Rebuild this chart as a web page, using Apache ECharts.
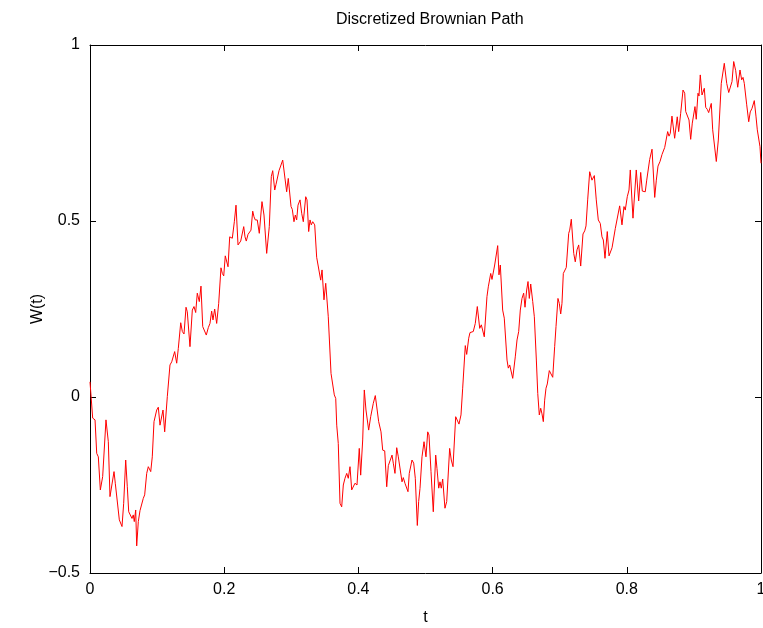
<!DOCTYPE html>
<html>
<head>
<meta charset="utf-8">
<script src="https://cdn.jsdelivr.net/npm/echarts@6/dist/echarts.min.js"></script>
<style>
  html, body { margin: 0; padding: 0; background: #fff; }
  #chart { width: 763px; height: 628px; }
</style>
</head>
<body>
<div id="chart"></div>
<script>
// Sample times t of the discretized path
const times = [
  0, 0.004, 0.0075, 0.010, 0.0124, 0.0154, 0.0189, 0.0238, 0.0273, 0.0298,
  0.0323, 0.0358, 0.0377, 0.0398, 0.0437, 0.0462, 0.0477, 0.0502, 0.0532, 0.0556,
  0.0577, 0.0601, 0.0626, 0.0645, 0.0660, 0.0681, 0.0696, 0.0720, 0.0745, 0.0770,
  0.0794, 0.0815, 0.0845, 0.0869, 0.0905, 0.0928, 0.0954, 0.0994, 0.1018, 0.1043,
  0.1088, 0.1113, 0.1133, 0.1152, 0.1173, 0.1192, 0.1218, 0.1237, 0.1262, 0.1292,
  0.1316, 0.1352, 0.1376, 0.1401, 0.1431, 0.1450, 0.1490, 0.1525, 0.1550, 0.1575,
  0.1599, 0.1620, 0.1629, 0.1654, 0.1680, 0.1709, 0.1733, 0.1763, 0.1788, 0.1813,
  0.1833, 0.1858, 0.1888, 0.1918, 0.1952, 0.1972, 0.1993, 0.2016, 0.2037, 0.2057,
  0.2082, 0.2101, 0.2121, 0.2151, 0.2176, 0.2206, 0.2225, 0.2246, 0.2265, 0.2291,
  0.2310, 0.2329, 0.2355, 0.2384, 0.2399, 0.2425, 0.2444, 0.2463, 0.2493, 0.2523,
  0.2563, 0.2593, 0.2633, 0.2672, 0.2702, 0.2723, 0.2753, 0.2772, 0.2791, 0.2817,
  0.2836, 0.2872, 0.2891, 0.2931, 0.2955, 0.2996, 0.3015, 0.3040, 0.3060, 0.3080,
  0.3100, 0.3130, 0.3155, 0.3179, 0.3215, 0.3234, 0.3259, 0.3279, 0.3298, 0.3319,
  0.3349, 0.3378, 0.3402, 0.3438, 0.3458, 0.3487, 0.3513, 0.3551, 0.3592, 0.3611,
  0.3641, 0.3662, 0.3677, 0.3700, 0.3726, 0.3751, 0.3775, 0.3800, 0.3826, 0.3849,
  0.3875, 0.3900, 0.3924, 0.3949, 0.3979, 0.4013, 0.4034, 0.4064, 0.4088, 0.4113,
  0.4153, 0.4183, 0.4203, 0.4222, 0.4252, 0.4302, 0.4337, 0.4362, 0.4392, 0.4422,
  0.4446, 0.4471, 0.4501, 0.4520, 0.4545, 0.4571, 0.4595, 0.4624, 0.4650, 0.4669,
  0.4694, 0.4720, 0.4739, 0.4758, 0.4779, 0.4799, 0.4824, 0.4848, 0.4878, 0.4898,
  0.4918, 0.4948, 0.4978, 0.5007, 0.5033, 0.5052, 0.5082, 0.5116, 0.5152, 0.5171,
  0.5197, 0.5216, 0.5235, 0.5256, 0.5290, 0.5316, 0.5360, 0.5384, 0.5410, 0.5450,
  0.5469, 0.5499, 0.5529, 0.5554, 0.5593, 0.5614, 0.5644, 0.5663, 0.5689, 0.5712,
  0.5742, 0.5772, 0.5808, 0.5832, 0.5852, 0.5876, 0.5916, 0.5936, 0.5951, 0.5972,
  0.5991, 0.6031, 0.6051, 0.6076, 0.6095, 0.6115, 0.6150, 0.6174, 0.6195, 0.6215,
  0.6234, 0.6255, 0.6274, 0.6300, 0.6338, 0.6364, 0.6389, 0.6413, 0.6438, 0.6463,
  0.6483, 0.6508, 0.6528, 0.6547, 0.6568, 0.6598, 0.6622, 0.6652, 0.6673, 0.6696,
  0.6717, 0.6736, 0.6756, 0.6776, 0.6796, 0.6815, 0.6845, 0.6870, 0.6896, 0.6925,
  0.6945, 0.6974, 0.6994, 0.7015, 0.7034, 0.7054, 0.7074, 0.7098, 0.7134, 0.7149,
  0.7173, 0.7209, 0.7232, 0.7258, 0.7283, 0.7313, 0.7347, 0.7373, 0.7392, 0.7417,
  0.7447, 0.7481, 0.7501, 0.7516, 0.7545, 0.7575, 0.7605, 0.7630, 0.7650, 0.7675,
  0.7694, 0.7709, 0.7735, 0.7754, 0.7780, 0.7805, 0.7829, 0.7854, 0.7894, 0.7928,
  0.7958, 0.7977, 0.8007, 0.8033, 0.8052, 0.8092, 0.8141, 0.8177, 0.8207, 0.8231,
  0.8256, 0.8275, 0.8297, 0.8316, 0.8341, 0.8376, 0.8416, 0.8440, 0.8465, 0.8495,
  0.8525, 0.8544, 0.8565, 0.8584, 0.8609, 0.8629, 0.8648, 0.8673, 0.8713, 0.8752,
  0.8773, 0.8803, 0.8838, 0.8863, 0.8878, 0.8902, 0.8927, 0.8952, 0.8976, 0.9001,
  0.9016, 0.9035, 0.9061, 0.9076, 0.9095, 0.9121, 0.9140, 0.9155, 0.9176, 0.9200,
  0.9220, 0.9240, 0.9259, 0.9280, 0.9300, 0.9334, 0.9364, 0.9408, 0.9429, 0.9453,
  0.9489, 0.9519, 0.9543, 0.9568, 0.9593, 0.9623, 0.9653, 0.9687, 0.9712, 0.9732,
  0.9751, 0.9787, 0.9817, 0.9840, 0.9866, 0.9885, 0.9900, 0.9925, 0.9945, 0.9966,
  0.9985, 1.0
];

// W(t) at each sample time
const values = [
  0.043, -0.060, -0.065, -0.160, -0.170, -0.264, -0.226, -0.065, -0.127, -0.283,
  -0.278, -0.212, -0.245, -0.243, -0.349, -0.354, -0.368, -0.302, -0.179, -0.255,
  -0.326, -0.321, -0.345, -0.335, -0.354, -0.321, -0.423, -0.354, -0.323, -0.321,
  -0.288, -0.278, -0.217, -0.198, -0.212, -0.170, -0.070, -0.037, -0.029, -0.080,
  -0.037, -0.099, -0.094, 0.001, 0.006, 0.091, 0.100, 0.097, 0.129, 0.096,
  0.138, 0.211, 0.186, 0.179, 0.255, 0.242, 0.143, 0.247, 0.257, 0.240,
  0.295, 0.299, 0.271, 0.315, 0.200, 0.197, 0.176, 0.197, 0.209, 0.244,
  0.219, 0.250, 0.209, 0.266, 0.367, 0.351, 0.344, 0.401, 0.396, 0.370,
  0.455, 0.460, 0.451, 0.498, 0.545, 0.432, 0.427, 0.443, 0.446, 0.484,
  0.455, 0.443, 0.462, 0.467, 0.474, 0.528, 0.512, 0.503, 0.503, 0.465,
  0.555, 0.517, 0.408, 0.484, 0.626, 0.643, 0.588, 0.604, 0.605, 0.643,
  0.647, 0.673, 0.671, 0.583, 0.621, 0.541, 0.533, 0.498, 0.517, 0.503,
  0.545, 0.560, 0.522, 0.498, 0.569, 0.560, 0.470, 0.503, 0.489, 0.498,
  0.489, 0.397, 0.399, 0.332, 0.361, 0.276, 0.323, 0.228, 0.067, 0.063,
  0.006, -0.004, -0.080, -0.132, -0.302, -0.312, -0.250, -0.231, -0.217, -0.231,
  -0.198, -0.264, -0.262, -0.245, -0.250, -0.146, -0.222, -0.122, 0.020, -0.037,
  -0.094, -0.056, -0.051, -0.018, 0.004, -0.070, -0.099, -0.151, -0.153, -0.255,
  -0.195, -0.193, -0.165, -0.188, -0.217, -0.144, -0.170, -0.170, -0.241, -0.229,
  -0.245, -0.248, -0.269, -0.217, -0.214, -0.179, -0.188, -0.231, -0.365, -0.297,
  -0.260, -0.170, -0.127, -0.170, -0.099, -0.108, -0.212, -0.326, -0.165, -0.203,
  -0.259, -0.241, -0.259, -0.233, -0.316, -0.297, -0.146, -0.179, -0.198, -0.056,
  -0.056, -0.077, -0.051, 0.025, 0.146, 0.121, 0.167, 0.183, 0.184, 0.186,
  0.209, 0.257, 0.195, 0.205, 0.205, 0.171, 0.285, 0.313, 0.311, 0.351,
  0.334, 0.375, 0.375, 0.430, 0.347, 0.375, 0.247, 0.224, 0.219, 0.105,
  0.082, 0.091, 0.086, 0.053, 0.114, 0.162, 0.186, 0.247, 0.280, 0.295,
  0.255, 0.304, 0.328, 0.280, 0.321, 0.271, 0.228, 0.105, 0.010, -0.051,
  -0.032, -0.048, -0.070, -0.009, 0.025, 0.037, 0.075, 0.075, 0.056, 0.143,
  0.200, 0.280, 0.266, 0.236, 0.266, 0.351, 0.349, 0.368, 0.465, 0.474,
  0.505, 0.408, 0.384, 0.418, 0.432, 0.372, 0.463, 0.472, 0.486, 0.560,
  0.640, 0.616, 0.616, 0.629, 0.560, 0.503, 0.493, 0.455, 0.446, 0.394,
  0.394, 0.470, 0.401, 0.403, 0.424, 0.420, 0.479, 0.477, 0.543, 0.489,
  0.541, 0.531, 0.569, 0.588, 0.645, 0.508, 0.645, 0.557, 0.638, 0.585,
  0.585, 0.583, 0.616, 0.621, 0.675, 0.704, 0.567, 0.616, 0.656, 0.669,
  0.689, 0.690, 0.709, 0.704, 0.754, 0.741, 0.749, 0.798, 0.735, 0.796,
  0.754, 0.806, 0.872, 0.863, 0.811, 0.806, 0.787, 0.732, 0.778, 0.782,
  0.825, 0.789, 0.863, 0.855, 0.915, 0.858, 0.855, 0.877, 0.823, 0.817,
  0.808, 0.810, 0.834, 0.759, 0.757, 0.669, 0.730, 0.891, 0.886, 0.948,
  0.891, 0.865, 0.863, 0.896, 0.953, 0.927, 0.880, 0.929, 0.901, 0.908,
  0.891, 0.830, 0.782, 0.810, 0.820, 0.817, 0.842, 0.798, 0.759, 0.757,
  0.711, 0.664
];

const xTicks = [0, 0.2, 0.4, 0.6, 0.8, 1];
const yTicks = [-0.5, 0, 0.5, 1];

const FONT = '"Liberation Sans", Arial, Helvetica, sans-serif';

const path = times.map((t, i) => [t, values[i]]);

const fmt = v => {
  const s = String(Math.round(v * 10) / 10);
  return s.replace('-', '\u2212');
};

const frameAxis = (extra) => Object.assign({
  type: 'value',
  axisLine: { show: true, onZero: false, lineStyle: { color: '#000', width: 1 } },
  axisTick: { show: true, inside: true, length: 6, lineStyle: { color: '#000', width: 1 } },
  splitLine: { show: false },
  axisLabel: { show: false }
}, extra);

const chart = echarts.init(document.getElementById('chart'), null, { renderer: 'canvas' });

chart.setOption({
  animation: false,
  backgroundColor: '#ffffff',
  title: {
    text: 'Discretized Brownian Path',
    left: 331,
    top: 7,
    textStyle: { fontFamily: FONT, fontSize: 16, fontWeight: 'normal', color: '#000' }
  },
  grid: {
    left: 90, right: 2, top: 45, bottom: 55,
    containLabel: false,
    outerBoundsMode: 'none'
  },
  xAxis: [
    frameAxis({
      position: 'bottom', min: 0, max: 1, interval: 0.2,
      name: 't', nameLocation: 'middle', nameGap: 37, nameMoveOverlap: false,
      nameTextStyle: { fontFamily: FONT, fontSize: 16, color: '#000' },
      axisLabel: {
        show: true, margin: 9, color: '#000', fontFamily: FONT, fontSize: 16,
        formatter: v => xTicks.some(t => Math.abs(t - v) < 1e-9) ? fmt(v) : ''
      }
    }),
    frameAxis({ position: 'top', min: 0, max: 1, interval: 0.2 })
  ],
  yAxis: [
    frameAxis({
      position: 'left', min: -0.5, max: 1, interval: 0.5,
      name: 'W(t)', nameLocation: 'middle', nameGap: 44, nameRotate: 90, nameMoveOverlap: false,
      nameTextStyle: { fontFamily: FONT, fontSize: 16, color: '#000' },
      axisLabel: {
        show: true, margin: 10, color: '#000', fontFamily: FONT, fontSize: 16,
        formatter: v => yTicks.some(t => Math.abs(t - v) < 1e-9) ? fmt(v) : ''
      }
    }),
    frameAxis({ position: 'right', min: -0.5, max: 1, interval: 0.5 })
  ],
  series: [{
    type: 'line',
    data: path,
    showSymbol: false,
    symbol: 'none',
    lineStyle: { color: '#ff0000', width: 1 },
    silent: true
  }]
});
</script>
</body>
</html>
